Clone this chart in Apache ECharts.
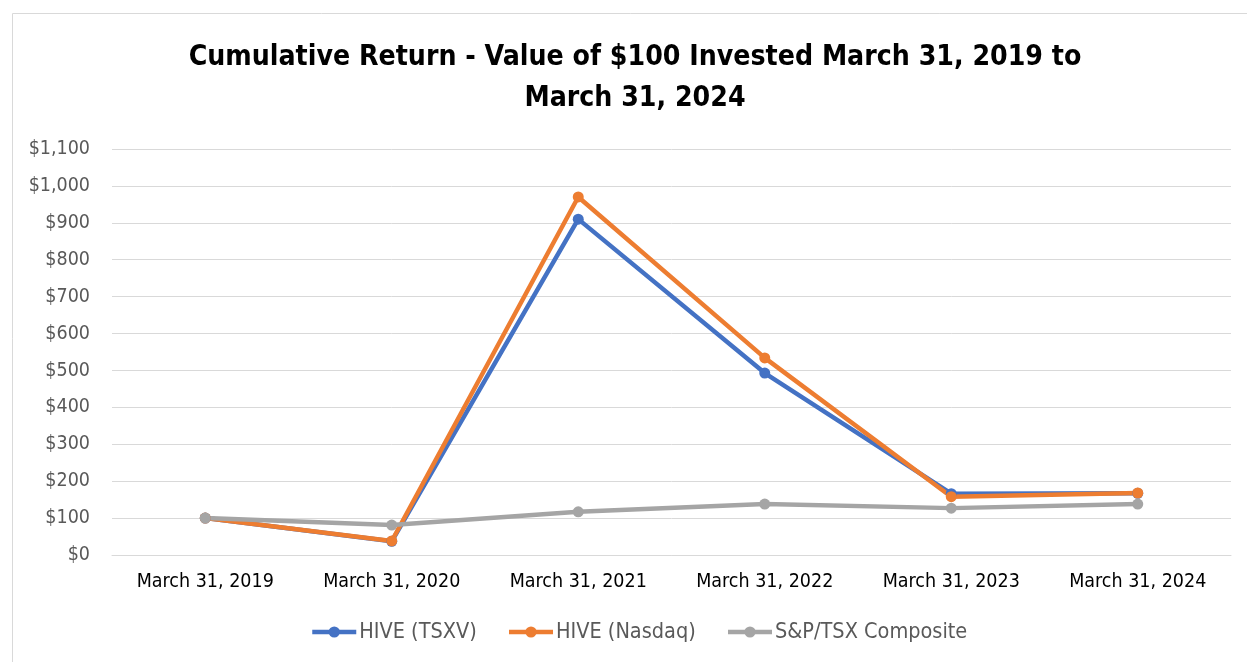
<!DOCTYPE html>
<html><head><meta charset="utf-8">
<script src="https://cdn.jsdelivr.net/npm/echarts@6/dist/echarts.min.js"></script>
<style>html,body{margin:0;padding:0;background:#fff}#c{width:1247px;height:662px}</style>
</head><body><div id="c"></div>
<script>
const categories = ['March 31, 2019','March 31, 2020','March 31, 2021','March 31, 2022','March 31, 2023','March 31, 2024'];
const hiveTsxv = [100, 37, 910, 493, 166, 167];
const hiveNasdaq = [100, 38, 970, 534, 158, 168];
const spTsx = [100, 81, 117, 138, 127, 138];
const seriesNames = ['HIVE (TSXV)','HIVE (Nasdaq)','S&P/TSX Composite'];
const colors = ['#4472C4','#ED7D31','#A5A5A5'];

const FONT = "'DejaVu Sans Condensed', 'Liberation Sans', sans-serif";
const chart = echarts.init(document.getElementById('c'));
const mk = (name, data, color) => ({
  name, type: 'line', data, color,
  symbol: 'circle', symbolSize: 11,
  lineStyle: { width: 4.5, color },
  itemStyle: { color },
  emphasis: { disabled: true }
});
chart.setOption({
  animation: false,
  graphic: [{ type: 'rect', shape: { x: 12.5, y: 13.5, width: 1240, height: 660 }, style: { fill: 'none', stroke: '#d9d9d9', lineWidth: 1 } }],
  title: {
    text: 'Cumulative Return - Value of $100 Invested March 31, 2019 to\nMarch 31, 2024',
    left: 630, textAlign: 'center', top: 32,
    textStyle: { fontFamily: FONT, fontWeight: 'bold', fontSize: 28.2, color: '#000', lineHeight: 41 }
  },
  legend: {
    bottom: 14, left: 305, itemWidth: 44, itemHeight: 14, itemGap: 30,
    lineStyle: { width: 4.5 },
    textStyle: { fontFamily: FONT, fontSize: 21.5, color: '#595959', padding: [0, 0, 0, -2] },
    data: seriesNames
  },
  grid: { left: 112, right: 16, top: 149, bottom: 107 },
  xAxis: {
    type: 'category', data: categories, boundaryGap: true,
    axisLine: { lineStyle: { color: '#d9d9d9' } }, axisTick: { show: false },
    axisLabel: { fontFamily: FONT, fontSize: 19.5, color: '#000', margin: 17 }
  },
  yAxis: {
    type: 'value', min: 0, max: 1100, interval: 100,
    axisLine: { show: false }, axisTick: { show: false },
    splitLine: { lineStyle: { color: '#d9d9d9', width: 1 } },
    axisLabel: { fontFamily: FONT, fontSize: 19.5, color: '#595959', margin: 22,
      formatter: v => '$' + v.toLocaleString('en-US') }
  },
  series: [mk(seriesNames[0], hiveTsxv, colors[0]), mk(seriesNames[1], hiveNasdaq, colors[1]), mk(seriesNames[2], spTsx, colors[2])]
});
</script></body></html>
